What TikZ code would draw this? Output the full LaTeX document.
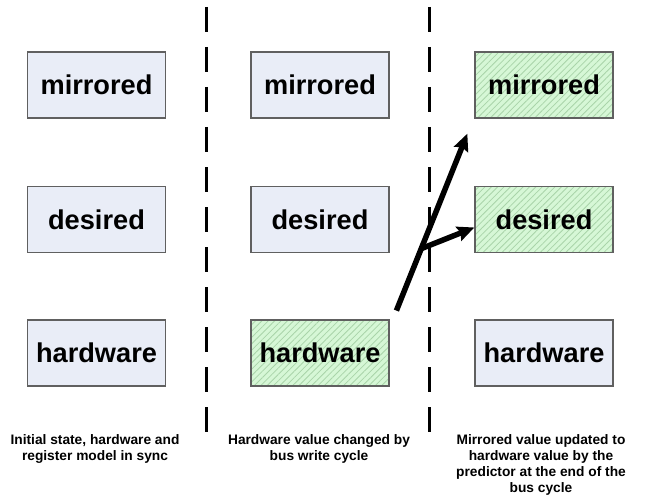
\documentclass[tikz,border=0pt]{standalone}
\usepackage{fontspec}
\setmainfont{Liberation Sans}
\usetikzlibrary{calc,arrows.meta,patterns.meta}
\tikzset {>=Stealth}
\definecolor{regblue}{HTML}{E9EDF7}
\definecolor{regedge}{HTML}{606060}
\definecolor{hatchbg}{HTML}{D6F7D6}
\definecolor{hatchfg}{HTML}{A9D4A9}
\tikzset{
  reg/.style={draw=regedge,line width=1.3bp,fill=regblue,minimum width=138bp,
    minimum height=66bp,inner sep=0pt,font=\bfseries\fontsize{27.3}{32}\selectfont},
  regnew/.style={reg,preaction={fill=hatchbg},
    pattern={Lines[angle=45,distance=4.5bp,line width=0.8bp]},pattern color=hatchfg},
  caption/.style={anchor=north,align=center,inner sep=0pt,
    font=\bfseries\fontsize{13.8}{16.2}\selectfont},
  cut/.style={line width=3bp,dash pattern=on 25bp off 15bp},
  move/.style={line width=5.5bp,->,>={Stealth[length=17bp,width=15bp,inset=2.5bp]}}
}
\begin{document}
\begin{tikzpicture}[x=1bp,y=-1bp]
\useasboundingbox (0,0) rectangle (661,500);
\node[reg] (m1) at (96.5,85) {mirrored};
\node[reg] (d1) at (96.5,219.5) {desired};
\node[reg] (h1) at (96.5,353) {hardware};
\node[reg] (m2) at (320,85) {mirrored};
\node[reg] (d2) at (320,219.5) {desired};
\node[regnew] (h2) at (320,353) {hardware};
\node[regnew] (m3) at (544,85) {mirrored};
\node[regnew] (d3) at (544,219.5) {desired};
\node[reg] (h3) at (544,353) {hardware};
\draw[cut] (206,7) -- (206,432);
\draw[cut] (429,7) -- (429,432);
\node[caption] (c1) at (95,434) {Initial state, hardware and\\register model in sync};
\node[caption] (c2) at (319,434) {Hardware value changed by\\bus write cycle};
\node[caption] (c3) at (541,434) {Mirrored value updated to\\hardware value by the\\predictor at the end of the\\bus cycle};
\coordinate (start) at ($(h2.north east)+(7,-9)$);
\coordinate (tip) at ($(m3.south west)+(-7,15)$);
\coordinate (fork) at ($(start)!.35!(tip)$);
\draw[move] (start) -- (tip);
\draw[move] (fork) -- ($(d3.west)+(0,8)$);
\end{tikzpicture}
\end{document}
